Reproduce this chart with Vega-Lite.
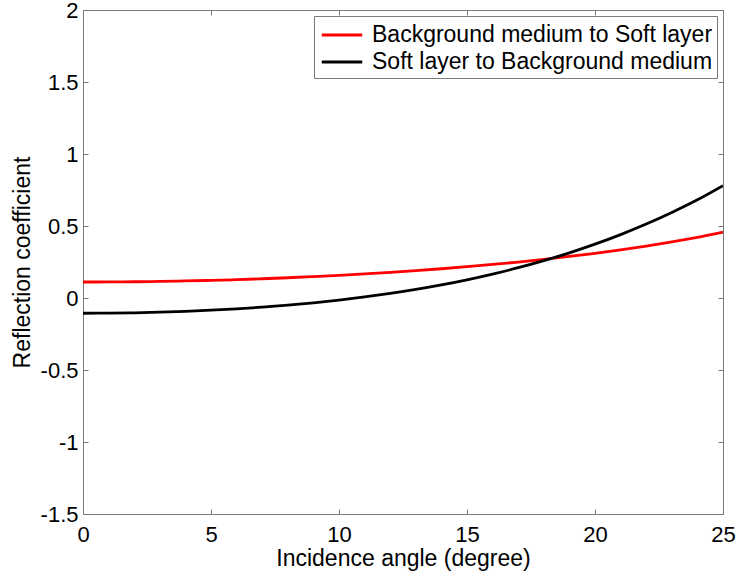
{
  "$schema": "https://vega.github.io/schema/vega-lite/v6.json",
  "width": 640,
  "height": 504,
  "autosize": {"type": "none"},
  "padding": {"left": 83, "top": 10, "right": 15, "bottom": 59},
  "background": "white",
  "config": {
    "font": "Liberation Sans",
    "view": {"stroke": null},
    "axis": {
      "grid": false,
      "domainColor": "#7a7a7a",
      "domainWidth": 1,
      "tickColor": "#7a7a7a",
      "tickSize": -5,
      "labelFont": "Liberation Sans",
      "labelFontSize": 22,
      "labelColor": "black",
      "titleFont": "Liberation Sans",
      "titleFontSize": 23,
      "titleFontWeight": "normal",
      "titleColor": "black"
    },
    "legend": {
      "orient": "top-right",
      "offset": 6,
      "strokeColor": "#7a7a7a",
      "fillColor": "white",
      "padding": 4,
      "labelFont": "Liberation Sans",
      "labelFontSize": 23,
      "labelColor": "black",
      "labelLimit": 0,
      "symbolType": "M-1.5,0H1.5",
      "symbolSize": 729,
      "symbolStrokeWidth": 2.8,
      "symbolOffset": 9,
      "labelOffset": 15,
      "rowPadding": 0
    }
  },
  "data": {
    "values": [
      {"angle": 0, "r": 0.1110, "series": "Background medium to Soft layer"},
      {"angle": 1, "r": 0.1115, "series": "Background medium to Soft layer"},
      {"angle": 2, "r": 0.1128, "series": "Background medium to Soft layer"},
      {"angle": 3, "r": 0.1151, "series": "Background medium to Soft layer"},
      {"angle": 4, "r": 0.1184, "series": "Background medium to Soft layer"},
      {"angle": 5, "r": 0.1225, "series": "Background medium to Soft layer"},
      {"angle": 6, "r": 0.1276, "series": "Background medium to Soft layer"},
      {"angle": 7, "r": 0.1336, "series": "Background medium to Soft layer"},
      {"angle": 8, "r": 0.1405, "series": "Background medium to Soft layer"},
      {"angle": 9, "r": 0.1484, "series": "Background medium to Soft layer"},
      {"angle": 10, "r": 0.1572, "series": "Background medium to Soft layer"},
      {"angle": 11, "r": 0.1671, "series": "Background medium to Soft layer"},
      {"angle": 12, "r": 0.1780, "series": "Background medium to Soft layer"},
      {"angle": 13, "r": 0.1899, "series": "Background medium to Soft layer"},
      {"angle": 14, "r": 0.2030, "series": "Background medium to Soft layer"},
      {"angle": 15, "r": 0.2172, "series": "Background medium to Soft layer"},
      {"angle": 16, "r": 0.2328, "series": "Background medium to Soft layer"},
      {"angle": 17, "r": 0.2497, "series": "Background medium to Soft layer"},
      {"angle": 18, "r": 0.2682, "series": "Background medium to Soft layer"},
      {"angle": 19, "r": 0.2884, "series": "Background medium to Soft layer"},
      {"angle": 20, "r": 0.3104, "series": "Background medium to Soft layer"},
      {"angle": 21, "r": 0.3344, "series": "Background medium to Soft layer"},
      {"angle": 22, "r": 0.3609, "series": "Background medium to Soft layer"},
      {"angle": 23, "r": 0.3899, "series": "Background medium to Soft layer"},
      {"angle": 24, "r": 0.4218, "series": "Background medium to Soft layer"},
      {"angle": 25, "r": 0.4571, "series": "Background medium to Soft layer"},
      {"angle": 0, "r": -0.1060, "series": "Soft layer to Background medium"},
      {"angle": 1, "r": -0.1052, "series": "Soft layer to Background medium"},
      {"angle": 2, "r": -0.1027, "series": "Soft layer to Background medium"},
      {"angle": 3, "r": -0.0985, "series": "Soft layer to Background medium"},
      {"angle": 4, "r": -0.0926, "series": "Soft layer to Background medium"},
      {"angle": 5, "r": -0.0849, "series": "Soft layer to Background medium"},
      {"angle": 6, "r": -0.0753, "series": "Soft layer to Background medium"},
      {"angle": 7, "r": -0.0635, "series": "Soft layer to Background medium"},
      {"angle": 8, "r": -0.0496, "series": "Soft layer to Background medium"},
      {"angle": 9, "r": -0.0334, "series": "Soft layer to Background medium"},
      {"angle": 10, "r": -0.0145, "series": "Soft layer to Background medium"},
      {"angle": 11, "r": 0.0071, "series": "Soft layer to Background medium"},
      {"angle": 12, "r": 0.0318, "series": "Soft layer to Background medium"},
      {"angle": 13, "r": 0.0597, "series": "Soft layer to Background medium"},
      {"angle": 14, "r": 0.0912, "series": "Soft layer to Background medium"},
      {"angle": 15, "r": 0.1266, "series": "Soft layer to Background medium"},
      {"angle": 16, "r": 0.1662, "series": "Soft layer to Background medium"},
      {"angle": 17, "r": 0.2103, "series": "Soft layer to Background medium"},
      {"angle": 18, "r": 0.2594, "series": "Soft layer to Background medium"},
      {"angle": 19, "r": 0.3138, "series": "Soft layer to Background medium"},
      {"angle": 20, "r": 0.3740, "series": "Soft layer to Background medium"},
      {"angle": 21, "r": 0.4404, "series": "Soft layer to Background medium"},
      {"angle": 22, "r": 0.5134, "series": "Soft layer to Background medium"},
      {"angle": 23, "r": 0.5937, "series": "Soft layer to Background medium"},
      {"angle": 24, "r": 0.6816, "series": "Soft layer to Background medium"},
      {"angle": 25, "r": 0.7800, "series": "Soft layer to Background medium"}
    ]
  },
  "layer": [
    {
      "mark": {"type": "line", "opacity": 0},
      "encoding": {
        "x": {"field": "angle", "type": "quantitative", "scale": {"domain": [0, 25], "nice": false, "zero": false},
              "axis": {"orient": "top", "labels": false, "title": null, "values": [0, 5, 10, 15, 20, 25]}},
        "y": {"field": "r", "type": "quantitative", "scale": {"domain": [-1.5, 2], "nice": false, "zero": false},
              "axis": {"orient": "right", "labels": false, "title": null, "values": [-1.5, -1, -0.5, 0, 0.5, 1, 1.5, 2]}}
      }
    },
    {
      "mark": {"type": "line", "strokeWidth": 2.8, "interpolate": "monotone", "clip": true},
      "encoding": {
        "x": {"field": "angle", "type": "quantitative",
              "axis": {"orient": "bottom", "title": "Incidence angle (degree)", "values": [0, 5, 10, 15, 20, 25], "labelPadding": 15, "titlePadding": 2, "labelFlush": false}},
        "y": {"field": "r", "type": "quantitative",
              "axis": {"orient": "left", "title": "Reflection coefficient", "values": [-1.5, -1, -0.5, 0, 0.5, 1, 1.5, 2], "labelPadding": 10, "titlePadding": 6,
                       "labelExpr": "datum.value < 0 ? '-' + format(-datum.value, '~g') : format(datum.value, '~g')"}},
        "color": {"field": "series", "type": "nominal",
                  "scale": {"domain": ["Background medium to Soft layer", "Soft layer to Background medium"], "range": ["#ff0000", "#000000"]},
                  "legend": {"title": null}}
      }
    }
  ],
  "resolve": {"axis": {"x": "independent", "y": "independent"}}
}
